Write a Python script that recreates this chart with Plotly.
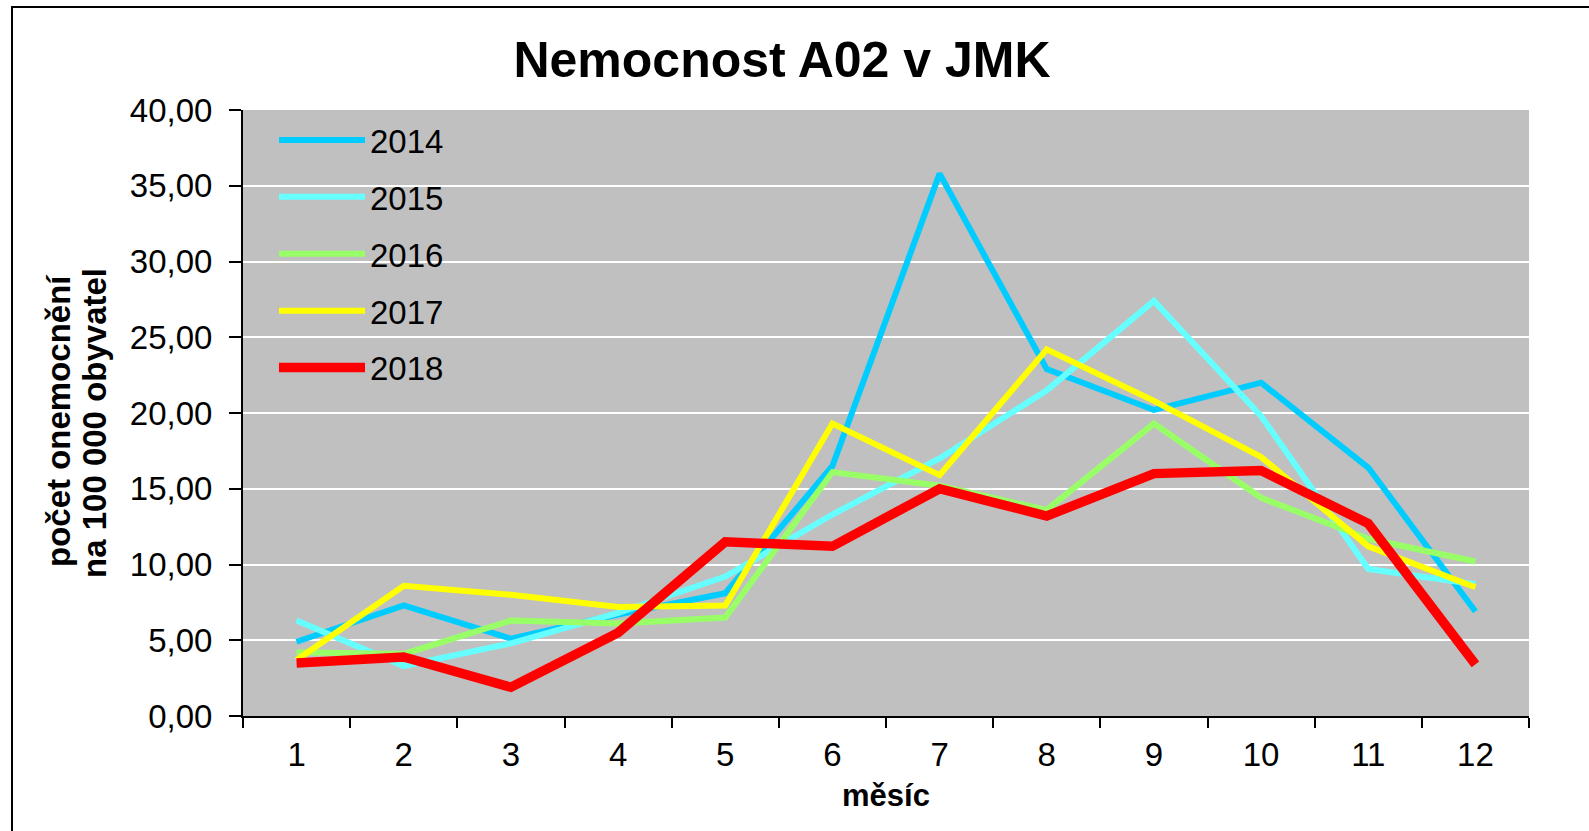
import plotly.graph_objects as go

months = ["1", "2", "3", "4", "5", "6", "7", "8", "9", "10", "11", "12"]
years = ["2014", "2015", "2016", "2017", "2018"]
v2014 = [4.9, 7.3, 5.1, 6.7, 8.1, 16.5, 35.8, 22.9, 20.2, 22.0, 16.4, 6.9]
v2015 = [6.3, 3.3, 4.8, 6.8, 9.2, 13.3, 17.0, 21.5, 27.4, 19.8, 9.7, 8.7]
v2016 = [4.2, 4.1, 6.3, 6.1, 6.5, 16.1, 15.2, 13.6, 19.3, 14.4, 11.7, 10.2]
v2017 = [3.7, 8.6, 8.0, 7.2, 7.3, 19.3, 15.9, 24.2, 20.8, 17.1, 11.2, 8.5]
v2018 = [3.5, 3.9, 1.9, 5.5, 11.5, 11.2, 15.0, 13.2, 16.0, 16.2, 12.7, 3.4]
series = [v2014, v2015, v2016, v2017, v2018]
colors = ["#00CCFF", "#66FFFF", "#99FF66", "#FFFF00", "#FF0000"]
widths = [6, 6, 6, 6, 9.5]

W, H = 1589, 831
L, R, T, B = 243, 60, 110, 115
pw, ph = W - L - R, H - T - B


def px(xp):
    return (xp - L) / pw


def py(yp):
    return (H - B - yp) / ph


fig = go.Figure()
for name, vals, c, w in zip(years, series, colors, widths):
    fig.add_trace(go.Scatter(x=months, y=vals, name=name, mode="lines",
                             legendgroup=name,
                             line=dict(color=c, width=w)))

font = "Liberation Sans, Arial, sans-serif"
fig.update_layout(
    width=W, height=H,
    margin=dict(l=L, r=R, t=T, b=B, autoexpand=False),
    paper_bgcolor="white", plot_bgcolor="#C0C0C0",
    separators=", ",
    font=dict(family=font, size=33, color="black"),
    title=dict(text="<b>Nemocnost A02 v JMK</b>", font=dict(size=50, family=font),
               x=782 / W, xref="container", xanchor="center",
               y=1 - 59 / H, yref="container", yanchor="middle"),
    showlegend=True,
    legend=dict(x=px(274), y=py(112), xanchor="left", yanchor="top",
                bgcolor="rgba(0,0,0,0)", borderwidth=0, itemwidth=86,
                tracegroupgap=11, font=dict(size=33, family=font),
                traceorder="grouped"),
    xaxis=dict(type="category", tickson="boundaries", showgrid=False,
               range=[-0.5, 11.5],
               showline=True, linecolor="black", linewidth=2,
               ticks="outside", ticklen=10, tickcolor="black", tickwidth=2,
               ticklabelstandoff=8,
               title=dict(text="<b>měsíc</b>", font=dict(size=31), standoff=13)),
    yaxis=dict(range=[0, 40], dtick=5, tickformat=".2f",
               showgrid=True, gridcolor="white", gridwidth=2, zeroline=False,
               showline=True, linecolor="black", linewidth=2,
               ticks="outside", ticklen=12, tickcolor="black", tickwidth=2,
               ticklabelstandoff=10),
    annotations=[
        dict(text="<b>počet onemocnění</b>", textangle=-90, xref="paper", yref="paper",
             x=px(59), y=py(421), xanchor="center", yanchor="middle",
             showarrow=False, font=dict(size=33, family=font)),
        dict(text="<b>na 100 000 obyvatel</b>", textangle=-90, xref="paper", yref="paper",
             x=px(94), y=py(423), xanchor="center", yanchor="middle",
             showarrow=False, font=dict(size=33, family=font)),
    ],
    shapes=[
        dict(type="rect", xref="paper", yref="paper",
             x0=0, x1=px(477), y0=py(400), y1=1,
             line=dict(width=0), fillcolor="#C0C0C0", layer="between"),
        dict(type="rect", xref="paper", yref="paper",
             x0=px(12), x1=1.3, y0=-0.5, y1=py(7),
             line=dict(color="black", width=2), fillcolor="rgba(0,0,0,0)",
             layer="above"),
    ],
)
fig.write_html("out.html", config={"displayModeBar": False},
               post_script="document.body.style.margin='0';")
